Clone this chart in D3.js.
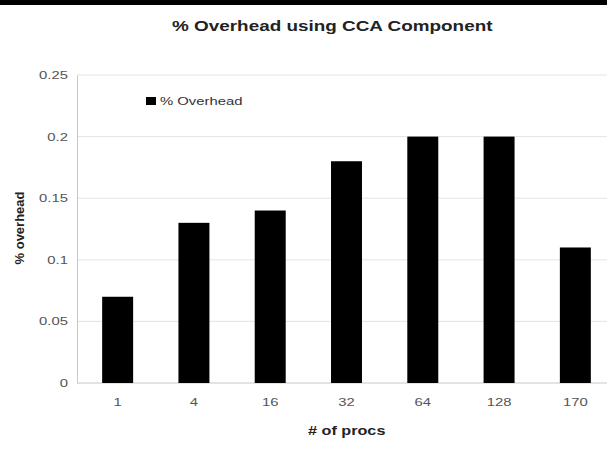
<!DOCTYPE html>
<html>
<head>
<meta charset="utf-8">
<script src="https://cdn.jsdelivr.net/npm/d3@7"></script>
<style>
  body { margin: 0; background: #fff; }
  text { font-family: "Liberation Sans", Arial, sans-serif; }
  .tick text { fill: #555; font-size: 11px; }
  .grid line { stroke: #e4e4e4; }
</style>
</head>
<body>
<svg width="607" height="461"></svg>
<script>
var procs = ["1", "4", "16", "32", "64", "128", "170"];
var overhead = [0.07, 0.13, 0.14, 0.18, 0.2, 0.2, 0.11];
var yTicks = [0, 0.05, 0.1, 0.15, 0.2, 0.25];

var svg = d3.select("svg");
var plotL = 77, plotT = 75, plotB = 383;
// the source picture is stretched sideways, so text gets a horizontal scale
var stretch = "scale(1.35,1)";

// black strip at the top
svg.append("rect").attr("x", 0).attr("y", 0).attr("width", 607).attr("height", 5).attr("fill", "#000");

svg.append("text")
  .attr("transform", "translate(172,31) " + stretch)
  .style("font-size", "14px").style("font-weight", "bold").attr("fill", "#222")
  .text("% Overhead using CCA Component");

var x = d3.scaleBand().domain(procs).range([79.5, 613.5]).paddingInner(0.594).paddingOuter(0.297);
var y = d3.scaleLinear().domain([0, 0.25]).range([plotB, plotT]);

// grid lines
svg.append("g").attr("class", "grid")
  .selectAll("line").data(yTicks.slice(1)).enter()
  .append("line")
  .attr("x1", plotL).attr("x2", 607)
  .attr("y1", function(d) { return y(d); })
  .attr("y2", function(d) { return y(d); });

// y axis
var yAxis = svg.append("g")
  .attr("transform", "translate(" + plotL + ",0)")
  .call(d3.axisLeft(y).tickValues(yTicks).tickSize(0).tickPadding(6.7).tickFormat(d3.format("~g")));
yAxis.select(".domain").attr("stroke", "#c8c8c8");
yAxis.selectAll(".tick text").attr("transform", stretch);

// x axis
var xAxis = svg.append("g")
  .attr("transform", "translate(0," + plotB + ")")
  .call(d3.axisBottom(x).tickSize(0).tickPadding(15));
xAxis.select(".domain").attr("stroke", "#c8c8c8").attr("d", "M" + plotL + ",0H607");
xAxis.selectAll(".tick text").attr("transform", stretch);

// bars
svg.append("g").selectAll("rect").data(overhead).enter()
  .append("rect")
  .attr("x", function(d, i) { return x(procs[i]); })
  .attr("y", function(d) { return y(d); })
  .attr("width", x.bandwidth())
  .attr("height", function(d) { return plotB - y(d); })
  .attr("fill", "#000");

// legend
svg.append("rect").attr("x", 146).attr("y", 97).attr("width", 10).attr("height", 8).attr("fill", "#000");
svg.append("text").attr("transform", "translate(160,105) " + stretch)
  .style("font-size", "11px").attr("fill", "#333")
  .text("% Overhead");

// axis titles
svg.append("text")
  .attr("transform", "translate(308,435) " + stretch)
  .style("font-size", "12px").style("font-weight", "bold").attr("fill", "#222")
  .text("# of procs");

svg.append("text")
  .attr("transform", "translate(24,228) rotate(-90)")
  .attr("text-anchor", "middle")
  .style("font-size", "13px").style("font-weight", "bold").attr("fill", "#222")
  .text("% overhead");
</script>
</body>
</html>
